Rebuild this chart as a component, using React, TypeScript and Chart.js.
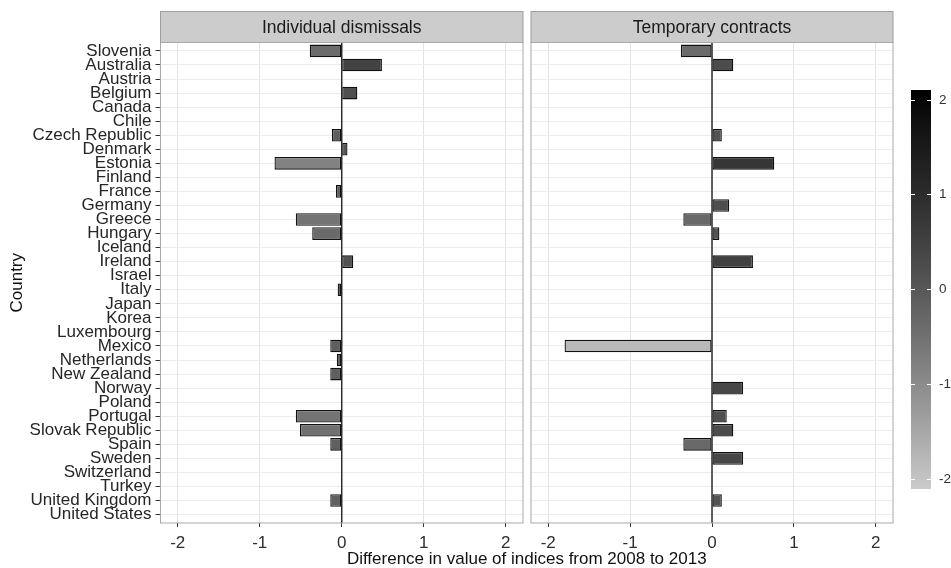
import React, { useEffect, useRef } from "react";
import { Chart, registerables } from "chart.js";

Chart.register(...registerables);

// ---------------- data ----------------
const countries = [
  "Slovenia", "Australia", "Austria", "Belgium", "Canada", "Chile", "Czech Republic",
  "Denmark", "Estonia", "Finland", "France", "Germany", "Greece", "Hungary", "Iceland",
  "Ireland", "Israel", "Italy", "Japan", "Korea", "Luxembourg", "Mexico", "Netherlands",
  "New Zealand", "Norway", "Poland", "Portugal", "Slovak Republic", "Spain", "Sweden",
  "Switzerland", "Turkey", "United Kingdom", "United States",
];

const individualDismissals = [
  -0.39, 0.49, 0, 0.19, 0, 0, -0.12,
  0.07, -0.82, 0, -0.07, 0, -0.56, -0.36, 0,
  0.14, 0, -0.05, 0, 0, 0, -0.14, -0.06,
  -0.14, 0, 0, -0.56, -0.51, -0.14, 0,
  0, 0, -0.14, 0,
];

const temporaryContracts = [
  -0.38, 0.26, 0, 0, 0, 0, 0.12,
  0, 0.76, 0, 0, 0.21, -0.35, 0.09, 0,
  0.5, 0, 0, 0, 0, 0, -1.8, 0,
  0, 0.38, 0, 0.18, 0.26, -0.35, 0.38,
  0, 0, 0.12, 0,
];

const xTicks = [-2, -1, 0, 1, 2];
const legendTicks = [2, 1, 0, -1, -2];
const colourLimits = [-2.1, 2.1];
const panelTitles = ["Individual dismissals", "Temporary contracts"];
const xTitle = "Difference in value of indices from 2008 to 2013";
const yTitle = "Country";

// ---------------- styling helpers ----------------
const FONT = '"Liberation Sans", Arial, Helvetica, sans-serif';
Chart.defaults.font.family = FONT;

// ggplot-like gradient (Lab interpolation) from grey80 (low) to black (high)
function greyFor(v: number): string {
  const [lo, hi] = colourLimits;
  let t = (v - lo) / (hi - lo);
  t = Math.max(0, Math.min(1, t));
  const Llow = 81.5;
  const L = Llow * Math.pow(1 - t, 1.12);
  const Y = L > 8 ? Math.pow((L + 16) / 116, 3) : L / 903.3;
  const s = Y <= 0.0031308 ? 12.92 * Y : 1.055 * Math.pow(Y, 1 / 2.4) - 0.055;
  const g = Math.round(Math.max(0, Math.min(1, s)) * 255);
  return `rgb(${g},${g},${g})`;
}

const W = 951;
const H = 568;
const PANEL_TOP = 42.5;
const PANEL_BOTTOM = 523;
const STRIP_TOP = 11.5;
const LEFT_PANEL = [160.5, 523];
const RIGHT_PANEL = [531, 893];

function decorPlugin(panel: number, withLegend: boolean, withXTitle: boolean) {
  return {
    id: "decor" + panel,
    afterDatasetsDraw(chart: any) {
      const { ctx, chartArea: a } = chart;
      const x0 = chart.scales.x.getPixelForValue(0);
      ctx.save();
      ctx.strokeStyle = "#222222";
      ctx.lineWidth = 1.4;
      ctx.beginPath();
      ctx.moveTo(x0, a.top);
      ctx.lineTo(x0, a.bottom);
      ctx.stroke();
      ctx.restore();
    },
    afterDraw(chart: any) {
      const { ctx, chartArea: a } = chart;
      ctx.save();
      // strip
      ctx.fillStyle = "#cccccc";
      ctx.fillRect(a.left, STRIP_TOP, a.right - a.left, a.top - STRIP_TOP);
      ctx.strokeStyle = "#9e9e9e";
      ctx.lineWidth = 1;
      ctx.strokeRect(a.left, STRIP_TOP, a.right - a.left, a.top - STRIP_TOP);
      ctx.fillStyle = "#1a1a1a";
      ctx.font = `17.5px ${FONT}`;
      ctx.textAlign = "center";
      ctx.textBaseline = "middle";
      ctx.fillText(panelTitles[panel], (a.left + a.right) / 2, (STRIP_TOP + a.top) / 2 + 1);
      // panel border
      ctx.strokeStyle = "#a8a8a8";
      ctx.strokeRect(a.left, a.top, a.right - a.left, a.bottom - a.top);

      if (withXTitle) {
        ctx.fillStyle = "#111111";
        ctx.font = `17px ${FONT}`;
        ctx.textAlign = "center";
        ctx.textBaseline = "middle";
        ctx.fillText(xTitle, (LEFT_PANEL[0] + RIGHT_PANEL[1]) / 2, 559);
      }

      if (withLegend) {
        const zeroY = 289.3;
        const perUnit = 94.9;
        const yOf = (v: number) => zeroY - v * perUnit;
        const x0 = 911;
        const x1 = 931;
        const top = yOf(colourLimits[1]);
        const bottom = yOf(colourLimits[0]);
        for (let y = Math.floor(top); y < bottom; y++) {
          const v = (zeroY - (y + 0.5)) / perUnit;
          ctx.fillStyle = greyFor(v);
          ctx.fillRect(x0, y, x1 - x0, 1);
        }
        ctx.strokeStyle = "#ffffff";
        ctx.lineWidth = 1;
        ctx.font = `13.5px ${FONT}`;
        ctx.textAlign = "left";
        ctx.textBaseline = "middle";
        for (const v of legendTicks) {
          const y = Math.round(yOf(v)) + 0.5;
          ctx.beginPath();
          ctx.moveTo(x0, y);
          ctx.lineTo(x0 + 4, y);
          ctx.moveTo(x1 - 4, y);
          ctx.lineTo(x1, y);
          ctx.stroke();
          ctx.fillStyle = "#333333";
          ctx.fillText(String(v), 939, y);
        }
      }
      ctx.restore();
    },
  };
}

function makeChart(canvas: HTMLCanvasElement, values: number[], panel: number) {
  const isLeft = panel === 0;
  const [pl, pr] = isLeft ? LEFT_PANEL : RIGHT_PANEL;
  return new Chart(canvas, {
    type: "bar",
    data: {
      datasets: [
        {
          data: values.map((v, i) => ({ x: v, y: i })),
          backgroundColor: values.map((v) => greyFor(v)),
          borderColor: "#111111",
          borderWidth: 1.3,
          borderSkipped: false,
          barPercentage: 0.9,
          categoryPercentage: 1,
        },
      ],
    },
    options: {
      indexAxis: "y",
      responsive: false,
      animation: false,
      devicePixelRatio: 1,
      events: [],
      layout: {
        padding: {
          top: PANEL_TOP,
          bottom: 0,
          left: isLeft ? 0 : pl,
          right: W - pr,
        },
      },
      plugins: {
        legend: { display: false },
        tooltip: { enabled: false },
        title: { display: false },
      },
      scales: {
        x: {
          type: "linear",
          position: "bottom",
          min: -2.21,
          max: 2.21,
          offset: false,
          afterBuildTicks: (s: any) => {
            s.ticks = xTicks.map((v) => ({ value: v }));
          },
          afterFit: (s: any) => {
            s.height = H - PANEL_BOTTOM;
          },
          grid: {
            offset: false,
            color: "#e4e4e4",
            lineWidth: 1,
            tickColor: "#333333",
            tickLength: 4,
            tickWidth: 1,
            drawTicks: true,
          },
          border: { display: false },
          ticks: {
            color: "#2e2e2e",
            font: { size: 17 },
            padding: 6,
            maxRotation: 0,
            autoSkip: false,
            callback: (v: any) => String(v),
          },
        },
        y: {
          type: "linear",
          reverse: true,
          offset: false,
          min: -0.6,
          max: countries.length - 1 + 0.6,
          afterBuildTicks: (s: any) => {
            s.ticks = countries.map((_, i) => ({ value: i }));
          },
          afterFit: (s: any) => {
            s.width = isLeft ? LEFT_PANEL[0] : 0;
          },
          grid: {
            offset: false,
            color: "#ececec",
            lineWidth: 1,
            tickColor: "#333333",
            tickLength: 5,
            drawTicks: isLeft,
          },
          border: { display: false },
          title: {
            display: isLeft,
            text: yTitle,
            color: "#111111",
            font: { size: 17 },
            padding: { top: 7, bottom: 0 },
          },
          ticks: {
            display: isLeft,
            color: "#262626",
            font: { size: 17 },
            padding: 4,
            autoSkip: false,
            callback: (v: any) => countries[v] ?? "",
          },
        },
      },
    },
    plugins: [decorPlugin(panel, !isLeft, isLeft)],
  } as any);
}

export default function App() {
  const leftRef = useRef<HTMLCanvasElement>(null);
  const rightRef = useRef<HTMLCanvasElement>(null);

  useEffect(() => {
    const c1 = makeChart(leftRef.current!, individualDismissals, 0);
    const c2 = makeChart(rightRef.current!, temporaryContracts, 1);
    return () => {
      c1.destroy();
      c2.destroy();
    };
  }, []);

  const canvasStyle: React.CSSProperties = {
    position: "absolute",
    left: 0,
    top: 0,
    width: W,
    height: H,
  };

  return (
    <div
      style={{
        position: "fixed",
        left: 0,
        top: 0,
        width: W,
        height: H,
        background: "#ffffff",
        overflow: "hidden",
      }}
    >
      <canvas ref={leftRef} width={W} height={H} style={canvasStyle} />
      <canvas ref={rightRef} width={W} height={H} style={canvasStyle} />
    </div>
  );
}
